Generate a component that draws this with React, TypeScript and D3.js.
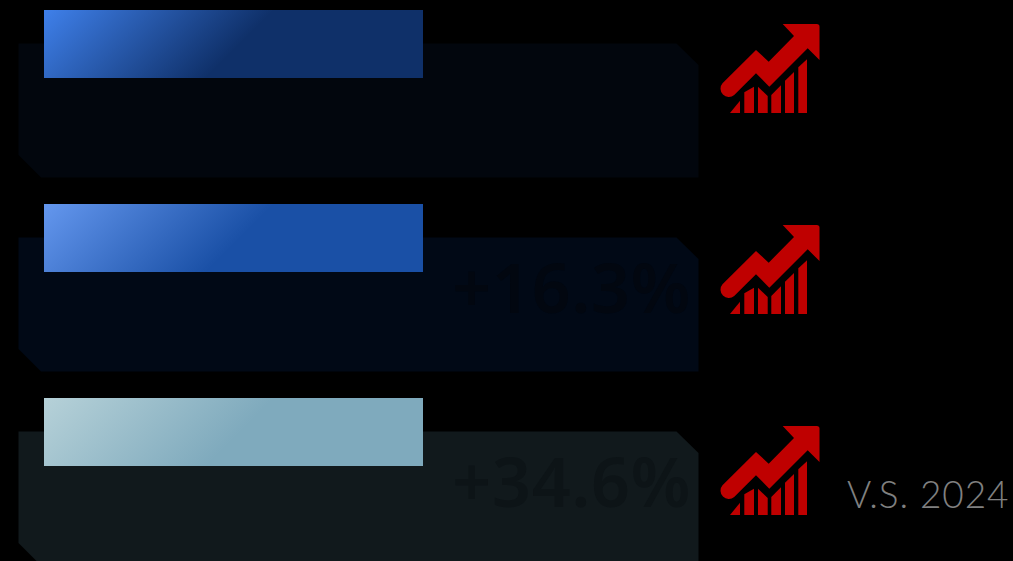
import * as d3 from 'd3';
import React, { useEffect, useRef } from 'react';

const rows = ['a', 'b', 'c'];
const changes = ['', '+16.3%', '+34.6%'];
const panelColors = ['#02060d', '#010916', '#11191c'];
const textColors = ['#02060d', '#020710', '#0d1417'];
const gradFrom = ['#3f80ea', '#6497ee', '#b6d1d8'];
const gradTo = ['#0f3069', '#1a50a6', '#7faabd'];
const compareLabel = 'V.S. 2024';

// arrow icon, drawn around the first row
const arrowPath = 'M782.7 24 L816.8 24 Q819.5 24 819.5 26.5 L819.5 60 L807.7 48.3 L769.3 86.7 L756 73.3 L734.2 95 A8.3 8.3 0 0 1 722.5 83.3 L756 50 L768.7 61.7 L794 36 Z';
const iconBars = [
  'M730 113 L740 100.7 L740 113 Z',
  'M744.3 113 L744.3 92.3 L754 86.7 L754 113 Z',
  'M758 113 L758 86.7 L767.7 96 L767.7 113 Z',
  'M771.3 113 L771.3 95 L781 85.3 L781 113 Z',
  'M785 113 L785 80.7 L794 72 L794 113 Z',
  'M798.3 113 L798.3 67.3 L807 59.3 L807 113 Z',
];

function App() {
  const ref = useRef<SVGSVGElement>(null);

  useEffect(() => {
    const svg = d3.select(ref.current);
    svg.selectAll('*').remove();

    const y = d3.scalePoint<string>().domain(rows).range([43.5, 431.5]);
    const iconY = d3.scalePoint<string>().domain(rows).range([0, 402]);
    const barTop = (d: string) => y(d)! - 33.5;

    const defs = svg.append('defs');
    rows.forEach((r, i) => {
      const g = defs.append('linearGradient')
        .attr('id', 'grad' + i)
        .attr('gradientUnits', 'userSpaceOnUse')
        .attr('x1', 44).attr('y1', barTop(r))
        .attr('x2', 44 + 115).attr('y2', barTop(r) + 115);
      g.append('stop').attr('offset', 0).attr('stop-color', gradFrom[i]);
      g.append('stop').attr('offset', 1).attr('stop-color', gradTo[i]);
    });

    const row = svg.selectAll('g.row')
      .data(rows)
      .enter()
      .append('g')
      .attr('class', 'row');

    // panel with two cut corners
    row.append('path')
      .attr('d', d => {
        const t = y(d)!;
        const p = d3.path();
        p.moveTo(18.5, t);
        p.lineTo(676.5, t);
        p.lineTo(698.5, t + 21.5);
        p.lineTo(698.5, t + 134);
        p.lineTo(41, t + 134);
        p.lineTo(18.5, t + 111.5);
        p.closePath();
        return p.toString();
      })
      .attr('fill', (d, i) => panelColors[i]);

    row.append('text')
      .attr('x', 691)
      .attr('y', d => y(d)! + 75)
      .attr('text-anchor', 'end')
      .attr('font-family', 'Noto Sans')
      .attr('font-weight', 600)
      .attr('font-size', 68)
      .attr('letter-spacing', 0.8)
      .attr('fill', (d, i) => textColors[i])
      .text((d, i) => changes[i]);

    row.append('rect')
      .attr('x', 44)
      .attr('y', barTop)
      .attr('width', 379)
      .attr('height', 68)
      .attr('fill', (d, i) => 'url(#grad' + i + ')');

    const icon = row.append('g')
      .attr('transform', d => 'translate(0,' + iconY(d) + ')')
      .attr('fill', '#bf0000');
    icon.append('path').attr('d', arrowPath);
    iconBars.forEach(b => icon.append('path').attr('d', b));

    svg.append('text')
      .attr('x', 847)
      .attr('y', 508)
      .attr('font-family', 'Lato')
      .attr('font-weight', 300)
      .attr('font-size', 37)
      .attr('letter-spacing', 0.9)
      .attr('fill', '#808080')
      .text(compareLabel);
  }, []);

  return (
    <svg
      ref={ref}
      width={1013}
      height={561}
      style={{ position: 'fixed', left: 0, top: 0, background: '#000' }}
    ></svg>
  );
}

export default App;
